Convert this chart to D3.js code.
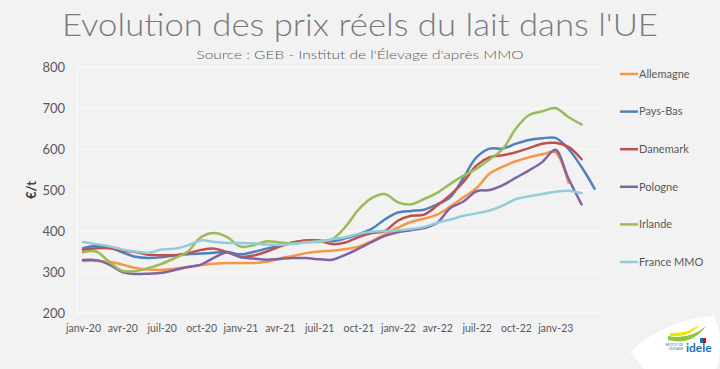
<!DOCTYPE html>
<html><head><meta charset="utf-8">
<script src="https://cdn.jsdelivr.net/npm/d3@7"></script>
<style>body{margin:0;background:#f2f2f2;} svg{display:block;}</style>
</head><body>
<script>
const months = ["janv-20","févr-20","mars-20","avr-20","mai-20","juin-20","juil-20","août-20","sept-20","oct-20","nov-20","déc-20",
"janv-21","févr-21","mars-21","avr-21","mai-21","juin-21","juil-21","août-21","sept-21","oct-21","nov-21","déc-21",
"janv-22","févr-22","mars-22","avr-22","mai-22","juin-22","juil-22","août-22","sept-22","oct-22","nov-22","déc-22",
"janv-23","févr-23","mars-23","avr-23"];
const tickLabels = ["janv-20","avr-20","juil-20","oct-20","janv-21","avr-21","juil-21","oct-21","janv-22","avr-22","juil-22","oct-22","janv-23"];
const seriesNames = ["Allemagne","Pays-Bas","Danemark","Pologne","Irlande","France MMO"];
const allemagne = [327,327,325,318,310,306,305,308,312,317,320,322,322,322,325,333,339,346,350,352,356,362,375,392,408,422,430,440,460,482,505,540,557,570,580,587,592,518,null,null];
const paysBas   = [358,364,360,348,337,334,336,340,343,345,347,349,343,349,357,364,372,377,377,375,382,392,405,428,445,449,452,465,483,530,580,601,601,613,622,626,627,600,556,503];
const danemark  = [354,358,358,352,349,342,341,341,346,354,357,348,337,340,350,362,372,377,376,368,372,385,395,400,425,437,440,462,488,520,560,580,585,592,602,613,615,605,575,null];
const pologne   = [329,329,318,300,295,296,298,305,312,318,335,348,336,333,330,332,334,334,331,330,342,357,373,388,397,402,407,420,456,472,497,500,512,530,548,568,598,528,465,null];
const irlande   = [348,350,325,303,302,310,320,334,350,385,395,385,362,365,375,372,370,373,374,380,410,452,480,490,470,465,478,493,515,535,552,575,600,650,683,692,700,678,660,null];
const franceMMO = [373,368,363,355,350,347,355,357,365,377,373,371,371,370,367,366,368,372,375,380,385,393,398,400,402,405,410,420,428,437,443,450,462,478,485,490,496,498,492,null];
const yTicks = [200,300,400,500,600,700,800];
const colors = ["#F79646","#4F81BD","#C0504D","#8064A2","#9BBB59","#92CDDC"];
const allSeries = [allemagne, paysBas, danemark, pologne, irlande, franceMMO];

const W = 720, H = 369;
const svg = d3.select("body").append("svg").attr("width", W).attr("height", H);
svg.append("rect").attr("width", W).attr("height", H).attr("fill", "#f2f2f2");

const x = d3.scaleLinear().domain([0, months.length - 1]).range([83, 83 + 13.12 * (months.length - 1)]);
const y = d3.scaleLinear().domain([200, 800]).range([313, 67]);

// title
svg.append("text").attr("x", 360).attr("y", 36).attr("text-anchor", "middle")
  .attr("font-family", "Lato, 'Open Sans', sans-serif").attr("font-weight", 300)
  .attr("font-size", 31).attr("fill", "#7a7a7a")
  .attr("textLength", 596).attr("lengthAdjust", "spacingAndGlyphs")
  .text("Evolution des prix réels du lait dans l'UE");
svg.append("text").attr("x", 360).attr("y", 59).attr("text-anchor", "middle")
  .attr("font-family", "Lato, 'Open Sans', sans-serif").attr("font-weight", 300)
  .attr("font-size", 12.5).attr("fill", "#595959")
  .attr("textLength", 327).attr("lengthAdjust", "spacingAndGlyphs")
  .text("Source : GEB - Institut de l'Élevage d'après MMO");

// gridlines
svg.append("g").selectAll("line").data(yTicks).join("line")
  .attr("x1", 77).attr("x2", 602).attr("y1", d => y(d)).attr("y2", d => y(d))
  .attr("stroke", "#fbfbfb").attr("stroke-width", 1);
svg.append("line").attr("x1", 77).attr("x2", 77).attr("y1", 67).attr("y2", 313)
  .attr("stroke", "#fbfbfb");

// y axis
const yAxis = svg.append("g").attr("transform", "translate(77,0)")
  .call(d3.axisLeft(y).tickValues(yTicks).tickSize(0).tickPadding(12));
yAxis.select(".domain").remove();
yAxis.selectAll("text").attr("font-family", "Lato, 'Open Sans', sans-serif")
  .attr("font-size", 13).attr("fill", "#595959");

svg.append("text").attr("transform", "translate(36,190) rotate(-90)")
  .attr("text-anchor", "middle").attr("font-family", "Lato, 'Open Sans', sans-serif")
  .attr("font-weight", "bold").attr("font-size", 13).attr("fill", "#404040").text("€/t");

// x axis
const tickIdx = tickLabels.map(l => months.indexOf(l));
const xAxis = svg.append("g").attr("transform", "translate(0,313)")
  .call(d3.axisBottom(x).tickValues(tickIdx).tickFormat(i => months[i]).tickSize(0).tickPadding(12));
xAxis.select(".domain").attr("stroke", "#fbfbfb").attr("d", "M77,0H602");
xAxis.selectAll("text").attr("font-family", "Lato, 'Open Sans', sans-serif")
  .attr("font-size", 10.5).attr("fill", "#595959");

// lines
const line = d3.line().defined(d => d != null).x((d, i) => x(i)).y(d => y(d))
  .curve(d3.curveCatmullRom.alpha(0.5));
svg.append("g").selectAll("path").data(allSeries).join("path")
  .attr("d", d => line(d)).attr("fill", "none")
  .attr("stroke", (d, i) => colors[i]).attr("stroke-width", 2.5)
  .attr("stroke-linejoin", "round").attr("stroke-linecap", "round");

// legend
const lg = svg.append("g").selectAll("g").data(seriesNames).join("g")
  .attr("transform", (d, i) => `translate(620,${74 + i * 37.6})`);
lg.append("line").attr("x1", 0).attr("x2", 18).attr("stroke", (d, i) => colors[i]).attr("stroke-width", 2.5);
lg.append("text").attr("x", 19).attr("dy", "0.35em").attr("font-family", "Lato, 'Open Sans', sans-serif")
  .attr("font-size", 11).attr("fill", "#595959").text(d => d);

// logo
const logo = svg.append("g");
logo.append("path").attr("d", "M630,352 Q664,320 714,316 Q726,340 716,369 L644,369 Z").attr("fill", "#ffffff");
logo.append("path").attr("d", "M668,336 Q690,340 706,326 Q692,346 668,340 Z").attr("fill", "#8dc63f");
logo.append("path").attr("d", "M670,333 Q688,334 700,324 Q690,338 670,336 Z").attr("fill", "#f2e500");
logo.append("text").attr("x", 686).attr("y", 352).attr("font-family", "Lato, sans-serif").attr("font-weight", "bold")
  .attr("font-size", 12).attr("fill", "#1f6fb5").text("idele");
logo.append("text").attr("x", 683).attr("y", 346).attr("text-anchor", "end").attr("font-family", "Lato, sans-serif")
  .attr("font-size", 3).attr("fill", "#1f6fb5").text("INSTITUT DE");
logo.append("text").attr("x", 683).attr("y", 350).attr("text-anchor", "end").attr("font-family", "Lato, sans-serif")
  .attr("font-size", 3).attr("fill", "#1f6fb5").text("L'ÉLEVAGE");
logo.append("rect").attr("x", 700).attr("y", 338).attr("width", 3).attr("height", 5).attr("fill", "#1f6fb5");
logo.append("rect").attr("x", 703).attr("y", 338).attr("width", 3).attr("height", 5).attr("fill", "#e30613");
</script>
</body></html>
